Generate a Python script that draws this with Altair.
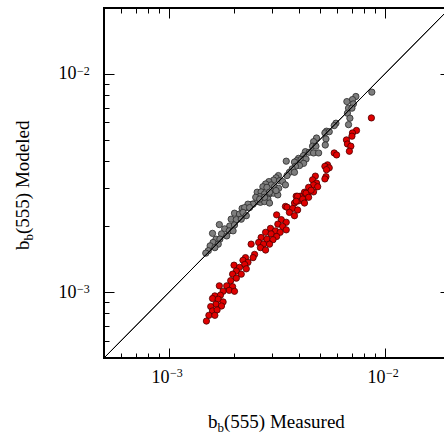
import altair as alt
import pandas as pd

# ---- data ----
gray_x = [8.69e-3,7.33e-3,7.07e-3,6.66e-3,7.14e-3,6.78e-3,7.03e-3,6.70e-3,6.88e-3,6.78e-3,
5.93e-3,5.82e-3,5.36e-3,5.27e-3,5.52e-3,5.33e-3,5.29e-3,4.82e-3,4.67e-3,4.62e-3,
4.79e-3,4.28e-3,4.46e-3,4.67e-3,4.93e-3,4.19e-3,3.98e-3,3.90e-3,3.81e-3,4.09e-3,
4.31e-3,4.20e-3,4.02e-3,3.85e-3,3.49e-3,3.72e-3,3.61e-3,3.81e-3,3.52e-3,3.21e-3,
3.13e-3,3.05e-3,3.25e-3,3.36e-3,2.90e-3,2.97e-3,2.80e-3,2.72e-3,2.84e-3,3.08e-3,
3.22e-3,3.46e-3,2.56e-3,2.67e-3,2.77e-3,2.92e-3,3.05e-3,3.19e-3,2.63e-3,2.72e-3,
2.87e-3,2.55e-3,2.43e-3,2.65e-3,2.77e-3,2.92e-3,2.28e-3,2.18e-3,2.92e-3,3.13e-3,
2.52e-3,2.63e-3,2.77e-3,2.45e-3,2.32e-3,2.24e-3,2.36e-3,2.01e-3,2.12e-3,2.20e-3,
2.28e-3,1.94e-3,2.05e-3,2.16e-3,1.71e-3,1.91e-3,2.01e-3,1.81e-3,1.90e-3,1.98e-3,
1.59e-3,1.75e-3,1.85e-3,1.65e-3,1.72e-3,1.60e-3,1.69e-3,1.55e-3,1.63e-3,1.52e-3,1.48e-3]
gray_y = [8.24e-3,7.87e-3,7.62e-3,7.46e-3,7.28e-3,6.96e-3,6.96e-3,6.60e-3,6.26e-3,5.85e-3,
5.94e-3,5.79e-3,5.46e-3,5.36e-3,5.43e-3,5.03e-3,4.72e-3,5.08e-3,4.89e-3,4.66e-3,
4.66e-3,4.40e-3,4.37e-3,4.34e-3,4.34e-3,4.22e-3,4.10e-3,4.00e-3,3.94e-3,4.05e-3,
4.07e-3,3.89e-3,3.80e-3,3.77e-3,3.98e-3,3.67e-3,3.54e-3,3.54e-3,3.42e-3,3.42e-3,
3.34e-3,3.26e-3,3.24e-3,3.21e-3,3.21e-3,3.10e-3,3.13e-3,3.04e-3,3.02e-3,3.04e-3,
2.99e-3,3.10e-3,2.87e-3,2.88e-3,2.82e-3,2.82e-3,2.84e-3,2.79e-3,2.74e-3,2.67e-3,
2.67e-3,2.60e-3,2.53e-3,2.58e-3,2.60e-3,2.56e-3,2.44e-3,2.42e-3,2.87e-3,2.92e-3,
2.72e-3,2.67e-3,2.72e-3,2.53e-3,2.53e-3,2.44e-3,2.44e-3,2.30e-3,2.28e-3,2.32e-3,
2.24e-3,2.16e-3,2.15e-3,2.16e-3,2.04e-3,2.01e-3,2.03e-3,1.95e-3,1.91e-3,1.91e-3,
1.86e-3,1.85e-3,1.81e-3,1.75e-3,1.75e-3,1.69e-3,1.66e-3,1.63e-3,1.60e-3,1.55e-3,1.51e-3]

red_x = [8.65e-3,7.38e-3,7.07e-3,7.03e-3,6.63e-3,6.70e-3,6.95e-3,6.84e-3,5.82e-3,5.97e-3,
5.42e-3,5.27e-3,5.52e-3,5.36e-3,5.33e-3,5.27e-3,4.76e-3,4.62e-3,4.82e-3,4.67e-3,
4.88e-3,4.43e-3,4.67e-3,4.24e-3,4.38e-3,4.05e-3,3.88e-3,4.19e-3,3.98e-3,3.81e-3,
3.46e-3,4.31e-3,4.55e-3,3.94e-3,4.16e-3,4.43e-3,3.88e-3,4.24e-3,3.52e-3,3.74e-3,
3.94e-3,3.61e-3,3.81e-3,3.15e-3,3.31e-3,3.49e-3,3.19e-3,3.36e-3,3.49e-3,2.95e-3,
3.11e-3,3.27e-3,2.80e-3,2.97e-3,3.15e-3,2.67e-3,2.84e-3,3.03e-3,2.60e-3,2.74e-3,
2.92e-3,2.40e-3,2.65e-3,2.80e-3,2.49e-3,2.45e-3,2.26e-3,2.20e-3,2.32e-3,2.24e-3,
2.00e-3,2.12e-3,2.28e-3,2.05e-3,2.16e-3,1.97e-3,2.05e-3,1.93e-3,1.71e-3,1.85e-3,
1.97e-3,1.90e-3,1.78e-3,2.01e-3,1.63e-3,1.73e-3,1.59e-3,1.69e-3,1.78e-3,1.65e-3,
1.75e-3,1.56e-3,1.59e-3,1.67e-3,1.53e-3,1.63e-3,1.49e-3]
red_y = [6.28e-3,5.50e-3,5.36e-3,5.18e-3,4.98e-3,4.77e-3,4.66e-3,4.42e-3,4.34e-3,4.25e-3,
3.83e-3,3.77e-3,3.71e-3,3.64e-3,3.38e-3,3.30e-3,3.40e-3,3.27e-3,3.16e-3,3.10e-3,
3.04e-3,3.02e-3,2.88e-3,2.87e-3,2.79e-3,2.75e-3,2.75e-3,2.62e-3,2.62e-3,2.56e-3,
2.47e-3,2.84e-3,2.93e-3,2.75e-3,2.67e-3,2.72e-3,2.61e-3,2.56e-3,2.45e-3,2.42e-3,
2.38e-3,2.32e-3,2.24e-3,2.26e-3,2.15e-3,2.09e-3,2.05e-3,2.00e-3,1.93e-3,1.96e-3,
1.91e-3,1.88e-3,1.88e-3,1.85e-3,1.80e-3,1.78e-3,1.75e-3,1.74e-3,1.69e-3,1.66e-3,
1.66e-3,1.66e-3,1.60e-3,1.56e-3,1.49e-3,1.44e-3,1.44e-3,1.40e-3,1.37e-3,1.34e-3,
1.33e-3,1.30e-3,1.28e-3,1.25e-3,1.21e-3,1.21e-3,1.16e-3,1.13e-3,1.07e-3,1.07e-3,
1.06e-3,1.02e-3,1.01e-3,1.01e-3,9.62e-4,9.69e-4,9.36e-4,9.29e-4,9.03e-4,8.81e-4,
8.65e-4,8.60e-4,8.21e-4,8.30e-4,7.84e-4,7.84e-4,7.38e-4]

one_to_one = [5e-4, 2e-2]
axis_domain = [5e-4, 2e-2]
major_ticks = [1e-3, 1e-2]
major_exponents = ["\u22123", "\u22122"]
minor_ticks = [6e-4, 7e-4, 8e-4, 9e-4, 2e-3, 3e-3, 4e-3, 5e-3, 6e-3, 7e-3, 8e-3, 9e-3]
x_title_parts = ["b", "b", "(555) Measured"]
y_title_parts = ["b", "b", "(555) Modeled"]

FONT = "Liberation Serif"
gray_df = pd.DataFrame({"x": gray_x, "y": gray_y})
red_df = pd.DataFrame({"x": red_x, "y": red_y})
line_df = pd.DataFrame({"x": one_to_one, "y": one_to_one})
exp_df = pd.DataFrame({"v": major_ticks, "e": major_exponents})

xs = alt.Scale(type="log", domain=axis_domain, nice=False)
ys = alt.Scale(type="log", domain=axis_domain, nice=False)


def axis(orient, values, size, labels=False, pad=0, **extra):
    kw = dict(orient=orient, values=values, tickSize=size, offset=-size,
              domain=False, grid=False, ticks=True, tickColor="black",
              tickWidth=1, title=None, labels=labels)
    if labels:
        kw.update(labelExpr="'10'", labelFont=FONT, labelFontSize=18,
                  labelColor="black", labelPadding=pad, **extra)
    return alt.Axis(**kw)


pt = dict(size=40, strokeWidth=0.8, opacity=1, filled=True)

gray = alt.Chart(gray_df).mark_point(shape="circle", fill="#7e7e7e", stroke="#2a2a2a", **pt).encode(
    x=alt.X("x:Q", scale=xs, axis=axis("bottom", major_ticks, 10, True, 10,
                                        labelAlign="right")),
    y=alt.Y("y:Q", scale=ys, axis=axis("left", major_ticks, 10, True, 28)),
)
red = alt.Chart(red_df).mark_point(shape="circle", fill="#e00000", stroke="#4a0000", **pt).encode(
    x=alt.X("x:Q", scale=xs, axis=axis("bottom", minor_ticks, 5)),
    y=alt.Y("y:Q", scale=ys, axis=axis("left", minor_ticks, 5)),
)
line1 = alt.Chart(line_df).mark_line(color="black", strokeWidth=1).encode(
    x=alt.X("x:Q", scale=xs, axis=axis("top", major_ticks, 10)),
    y=alt.Y("y:Q", scale=ys, axis=axis("right", major_ticks, 10)),
)
line2 = alt.Chart(line_df).mark_line(color="black", strokeWidth=1).encode(
    x=alt.X("x:Q", scale=xs, axis=axis("top", minor_ticks, 5)),
    y=alt.Y("y:Q", scale=ys, axis=axis("right", minor_ticks, 5)),
)

# superscript exponents of the tick labels
x_exp = alt.Chart(exp_df).mark_text(
    font=FONT, fontSize=12, color="black", align="left", baseline="alphabetic", dx=1
).encode(x=alt.X("v:Q", scale=xs, axis=None), y=alt.value(369), text="e:N")
y_exp = alt.Chart(exp_df).mark_text(
    font=FONT, fontSize=12, color="black", align="left", baseline="alphabetic", dy=1
).encode(y=alt.Y("v:Q", scale=ys, axis=None), x=alt.value(-27), text="e:N")


def txt(s, x, y, size, angle=0):
    return alt.Chart(pd.DataFrame({"t": [s]})).mark_text(
        font=FONT, fontSize=size, color="black", align="left",
        baseline="alphabetic", angle=angle
    ).encode(text="t:N", x=alt.value(x), y=alt.value(y))


titles = [
    txt(x_title_parts[0], 104, 420, 19),
    txt(x_title_parts[1], 113.5, 424, 13),
    txt(x_title_parts[2], 120, 420, 19),
    txt(y_title_parts[0], -75, 242, 19, 270),
    txt(y_title_parts[1], -71, 232.5, 13, 270),
    txt(y_title_parts[2], -75, 226, 19, 270),
]

chart = alt.layer(gray, red, line1, line2, x_exp, y_exp, *titles).resolve_axis(
    x="independent", y="independent"
).properties(
    width=346, height=350,
    autosize=alt.AutoSizeParams(type="none"),
    padding={"left": 104, "top": 8, "right": -6, "bottom": 76},
    background="white",
).configure_view(stroke="black", strokeWidth=2)

chart.save("out.html", embed_options={"renderer": "svg", "actions": False})
